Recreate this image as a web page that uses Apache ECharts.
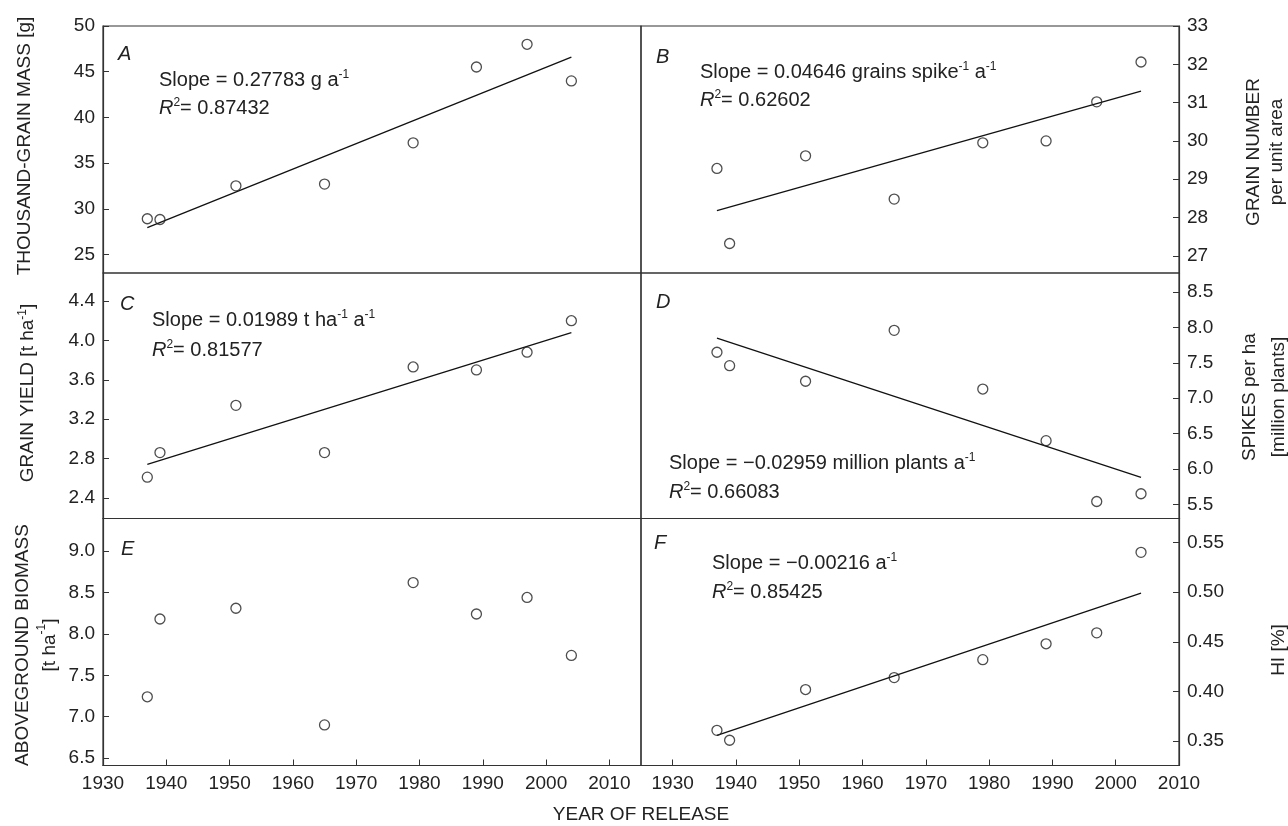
<!DOCTYPE html>
<html>
<head>
<meta charset="utf-8">
<script src="https://cdn.jsdelivr.net/npm/echarts@6/dist/echarts.min.js"></script>
<style>
  html, body { margin: 0; padding: 0; background: #fff; }
  #main { width: 1288px; height: 826px; }
</style>
</head>
<body>
<div id="main"></div>
<script>
// cultivar release years
const years = [1937, 1939, 1951, 1965, 1979, 1989, 1997, 2004]

const grainMass = [28.93, 28.85, 32.53, 32.72, 37.23, 45.52, 48.0, 44.0]
const grainNumber = [29.28, 27.32, 29.61, 28.48, 29.95, 30.0, 31.02, 32.06]
const grainYield = [2.61, 2.86, 3.34, 2.86, 3.73, 3.70, 3.88, 4.20]
const spikes = [7.65, 7.46, 7.24, 7.96, 7.13, 6.40, 5.54, 5.65]
const biomass = [7.24, 8.18, 8.31, 6.90, 8.62, 8.24, 8.44, 7.74]
const harvestIndex = [0.361, 0.351, 0.402, 0.414, 0.432, 0.448, 0.459, 0.540]

// regression line end points
const fitYears = [1937, 2004]
const fitMass = [27.95, 46.6]
const fitNumber = [28.18, 31.30]
const fitYield = [2.74, 4.08]
const fitSpikes = [7.85, 5.88]
const fitHI = [0.356, 0.499]

// tick labels
const yearTicks = [1930, 1940, 1950, 1960, 1970, 1980, 1990, 2000, 2010]
const massTicks = [25, 30, 35, 40, 45, 50]
const numberTicks = [27, 28, 29, 30, 31, 32, 33]
const yieldTicks = [2.4, 2.8, 3.2, 3.6, 4.0, 4.4]
const spikeTicks = [5.5, 6.0, 6.5, 7.0, 7.5, 8.0, 8.5]
const biomassTicks = [6.5, 7.0, 7.5, 8.0, 8.5, 9.0]
const hiTicks = [0.35, 0.40, 0.45, 0.50, 0.55]

const FONT = "'Liberation Sans', Arial, sans-serif"
const INK = '#222'

// panel layout: [left, top, width, height]
const panels = [
  { box: [103, 26, 538, 247], side: 'left', yr: [23, 50], xr: [1930, 2015], ticks: massTicks, dec: 0, bottom: false },
  { box: [641, 26, 538, 247], side: 'right', yr: [26.55, 33], xr: [1925, 2010], ticks: numberTicks, dec: 0, bottom: false },
  { box: [103, 273, 538, 245.5], side: 'left', yr: [2.19, 4.685], xr: [1930, 2015], ticks: yieldTicks, dec: 1, bottom: false },
  { box: [641, 273, 538, 245.5], side: 'right', yr: [5.30, 8.77], xr: [1925, 2010], ticks: spikeTicks, dec: 1, bottom: false },
  { box: [103, 518.5, 538, 247], side: 'left', yr: [6.41, 9.394], xr: [1930, 2015], ticks: biomassTicks, dec: 1, bottom: true },
  { box: [641, 518.5, 538, 247], side: 'right', yr: [0.3256, 0.574], xr: [1925, 2010], ticks: hiTicks, dec: 2, bottom: true }
]

const grid = panels.map(p => ({
  left: p.box[0], top: p.box[1], width: p.box[2], height: p.box[3],
  show: true, borderColor: '#333', borderWidth: 1.2, backgroundColor: 'transparent',
  containLabel: false, outerBoundsMode: 'none'
}))

const xAxis = panels.map((p, i) => ({
  type: 'value', gridIndex: i, min: p.xr[0], max: p.xr[1],
  splitLine: { show: false },
  axisLine: { show: p.bottom, onZero: false, lineStyle: { color: '#333', width: 1.2 } },
  axisTick: { show: p.bottom, inside: true, length: 6, customValues: yearTicks, lineStyle: { color: '#333' } },
  axisLabel: {
    show: p.bottom, customValues: yearTicks, margin: 9,
    color: INK, fontSize: 19, fontFamily: FONT,
    formatter: v => String(Math.round(v))
  }
}))

const yAxis = panels.map((p, i) => ({
  type: 'value', gridIndex: i, position: p.side, min: p.yr[0], max: p.yr[1],
  splitLine: { show: false },
  axisLine: { show: true, onZero: false, lineStyle: { color: '#333', width: 1.2 } },
  axisTick: { show: true, inside: true, length: 6, customValues: p.ticks, lineStyle: { color: '#333' } },
  axisLabel: {
    customValues: p.ticks, margin: 8, showMinLabel: true, showMaxLabel: true,
    color: INK, fontSize: 19, fontFamily: FONT,
    formatter: v => Number(v).toFixed(p.dec)
  }
}))

const traitData = [grainMass, grainNumber, grainYield, spikes, biomass, harvestIndex]
const fitData = [fitMass, fitNumber, fitYield, fitSpikes, null, fitHI]

const series = []
traitData.forEach((vals, i) => {
  series.push({
    type: 'scatter', xAxisIndex: i, yAxisIndex: i, silent: true,
    symbol: 'circle', symbolSize: 10,
    itemStyle: { color: 'transparent', borderColor: INK, borderWidth: 1.3 },
    data: years.map((y, k) => [y, vals[k]]),
    z: 3
  })
  if (fitData[i]) {
    series.push({
      type: 'line', xAxisIndex: i, yAxisIndex: i, silent: true,
      showSymbol: false, symbol: 'none',
      lineStyle: { color: '#111', width: 1.3 },
      data: fitYears.map((y, k) => [y, fitData[i][k]]),
      z: 2
    })
  }
})

const rich = {
  t: { fontSize: 19, fontFamily: FONT, fill: INK, lineHeight: 22 },
  a: { fontSize: 20, fontFamily: FONT, fill: INK, lineHeight: 22 },
  i: { fontSize: 20, fontFamily: FONT, fill: INK, fontStyle: 'italic', lineHeight: 22 },
  s: { fontSize: 12, fontFamily: FONT, fill: INK, lineHeight: 12, verticalAlign: 'top' }
}

// helper for text graphics
const txt = (x, y, text, extra) => Object.assign({
  type: 'text', x: x, y: y, silent: true,
  style: Object.assign({
    text: text, rich: rich, fill: INK, font: `19px ${FONT}`,
    textAlign: 'left', textVerticalAlign: 'middle'
  }, extra || {})
})

// vertical title (reads bottom to top)
const vtitle = (x, y, text, lh) => ({
  type: 'text', x: x, y: y, rotation: Math.PI / 2, silent: true,
  style: {
    text: text, rich: Object.assign({}, rich, {
      t: Object.assign({}, rich.t, { lineHeight: lh || 22 })
    }),
    fill: INK, font: `19px ${FONT}`, textAlign: 'center', textVerticalAlign: 'middle'
  }
})

const graphic = [
  // panel letters
  txt(118, 54, '{i|A}'),
  txt(656, 57, '{i|B}'),
  txt(120, 304, '{i|C}'),
  txt(656, 302, '{i|D}'),
  txt(121, 549, '{i|E}'),
  txt(654, 543, '{i|F}'),
  // regression annotations
  txt(159, 80, '{a|Slope = 0.27783 g a}{s|-1}'),
  txt(159, 108, '{i|R}{s|2}{a|= 0.87432}'),
  txt(700, 72, '{a|Slope = 0.04646 grains spike}{s|-1}{a| a}{s|-1}'),
  txt(700, 100, '{i|R}{s|2}{a|= 0.62602}'),
  txt(152, 320, '{a|Slope = 0.01989 t ha}{s|-1}{a| a}{s|-1}'),
  txt(152, 350, '{i|R}{s|2}{a|= 0.81577}'),
  txt(669, 463, '{a|Slope = \u22120.02959 million plants a}{s|-1}'),
  txt(669, 492, '{i|R}{s|2}{a|= 0.66083}'),
  txt(712, 563, '{a|Slope = \u22120.00216 a}{s|-1}'),
  txt(712, 592, '{i|R}{s|2}{a|= 0.85425}'),
  // axis titles
  vtitle(25, 146, '{t|THOUSAND-GRAIN MASS [g]}'),
  vtitle(28, 393, '{t|GRAIN YIELD [t ha}{s|-1}{t|]}'),
  vtitle(36, 645, '{t|ABOVEGROUND BIOMASS}\n{t|[t ha}{s|-1}{t|]}', 27),
  vtitle(1265, 152, '{t|GRAIN NUMBER}\n{t|per unit area}', 23),
  vtitle(1264, 397, '{t|SPIKES per ha}\n{t|[million plants]}', 29),
  vtitle(1279, 650, '{t|HI [%]}'),
  txt(641, 815, '{t|YEAR OF RELEASE}', { textAlign: 'center' })
]

const option = {
  animation: false,
  backgroundColor: '#fff',
  textStyle: { fontFamily: FONT },
  grid: grid,
  xAxis: xAxis,
  yAxis: yAxis,
  series: series,
  graphic: graphic
}

const myChart = echarts.init(document.getElementById('main'))
myChart.setOption(option)
</script>
</body>
</html>
